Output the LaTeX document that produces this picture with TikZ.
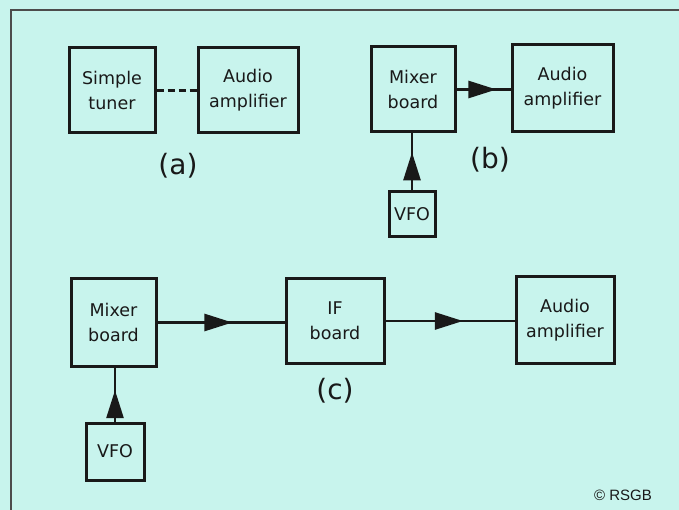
\documentclass[tikz,border=0pt]{standalone}
\usepackage{fontspec}
\setmainfont{DejaVu Sans}
\newfontfamily\credfont{Liberation Sans}
\usetikzlibrary{arrows.meta,decorations.markings}
\definecolor{bgcyan}{RGB}{200,244,237}
\definecolor{ink}{RGB}{25,25,25}
\tikzset{
  blockbox/.style={draw=ink, line width=3pt, fill=none, inner sep=0pt, align=center,
    text=ink, font=\fontsize{17.5}{25}\selectfont},
  conn/.style={draw=ink, line width=2.6pt},
  midarrow/.style={decoration={markings, mark=at position #1 with {\arrow{Triangle[length=28pt,width=17pt]}}}, postaction={decorate}},
  partlabel/.style={text=ink, font=\fontsize{28}{32}\selectfont},
}
\begin{document}
\begin{tikzpicture}[x=1pt,y=-1pt]
\fill[bgcyan] (0,0) rectangle (679,510);
\useasboundingbox (0,0) rectangle (679,510);
\draw[gray!60!black, line width=1.4pt] (11,510) -- (11,10) -- (679,10);
% (a)
\node[blockbox, minimum width=86pt, minimum height=85pt] (tuner) at (112,90.5) {Simple\\tuner};
\node[blockbox, minimum width=100pt, minimum height=85pt] (ampa) at (248,90.5) {Audio\\amplifier};
\draw[conn, dash pattern=on 7pt off 4pt] (tuner.east) -- (ampa.west);
\node[partlabel] (la) at (178,166) {(a)};
% (b)
\node[blockbox, minimum width=84pt, minimum height=85pt] (mixb) at (413,89.5) {Mixer\\board};
\node[blockbox, minimum width=101pt, minimum height=87pt] (ampb) at (562.5,88.5) {Audio\\amplifier};
\node[blockbox, minimum width=46pt, minimum height=45pt] (vfob) at (412,214.5) {VFO};
\draw[conn, midarrow=0.74] (mixb.east) -- (mixb.east -| ampb.west);
\draw[conn, midarrow=0.67] (vfob.north) -- (vfob.north |- mixb.south);
\node[partlabel] (lb) at (490,160) {(b)};
% (c)
\node[blockbox, minimum width=85pt, minimum height=87pt] (mixc) at (113.5,322.5) {Mixer\\board};
\node[blockbox, minimum width=58pt, minimum height=57pt] (vfoc) at (115,451.5) {VFO};
\node[blockbox, minimum width=98pt, minimum height=84pt] (ifb) at (335,321) {IF\\board};
\node[blockbox, minimum width=98pt, minimum height=86pt] (ampc) at (565,320) {Audio\\amplifier};
\draw[conn, midarrow=0.59] (mixc.east) -- (mixc.east -| ifb.west);
\draw[conn, midarrow=0.6] (ifb.east) -- (ifb.east -| ampc.west);
\draw[conn, midarrow=0.58] (vfoc.north) -- (vfoc.north |- mixc.south);
\node[partlabel] (lc) at (335,391) {(c)};
\node[text=ink, font=\credfont\fontsize{15}{18}\selectfont] (cr) at (623,495) {© RSGB};
\end{tikzpicture}
\end{document}
